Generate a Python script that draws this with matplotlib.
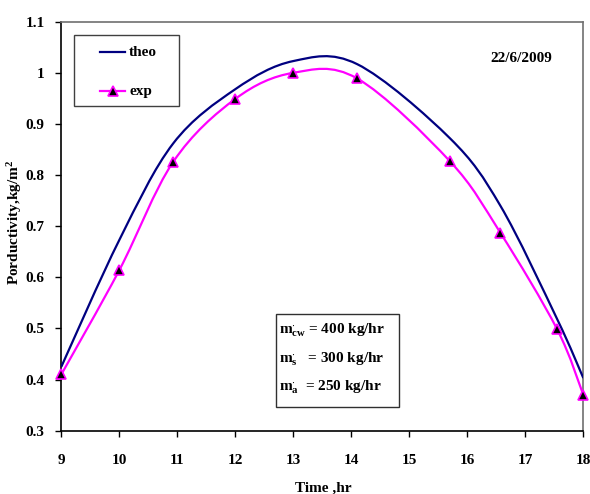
import matplotlib
matplotlib.use("Agg")
import matplotlib.pyplot as plt
from matplotlib.path import Path
from matplotlib.patches import PathPatch, Rectangle
from matplotlib.lines import Line2D
import numpy as np

plt.rcParams['font.family'] = ['Liberation Serif', 'DejaVu Serif']
plt.rcParams['font.weight'] = 'bold'
plt.rcParams['mathtext.fontset'] = 'custom'
plt.rcParams['mathtext.rm'] = 'Liberation Serif:bold'
plt.rcParams['mathtext.bf'] = 'Liberation Serif:bold'
plt.rcParams['mathtext.it'] = 'Liberation Serif:bold'

# Data
theo_time = [9, 10, 10.93, 12, 13, 14.1, 15.7, 16.57, 17.55, 18]
theo_prod = [0.425, 0.673, 0.862, 0.968, 1.023, 1.017, 0.872, 0.74, 0.518, 0.403]
exp_time = [9, 10, 10.93, 12, 13, 14.1, 15.7, 16.57, 17.55, 18]
exp_prod = [0.41, 0.614, 0.826, 0.949, 1.0, 0.989, 0.827, 0.687, 0.498, 0.37]
x_ticks = [9, 10, 11, 12, 13, 14, 15, 16, 17, 18]
y_ticks = [0.3, 0.4, 0.5, 0.6, 0.7, 0.8, 0.9, 1.0, 1.1]
y_tick_labels = ['0.3', '0.4', '0.5', '0.6', '0.7', '0.8', '0.9', '1', '1.1']

W, H = 590, 494
FS = 11


def smooth_path(xs, ys):
    """Excel-like smoothed line: Catmull-Rom converted to cubic Bezier segments."""
    pts = np.column_stack([xs, ys]).astype(float)
    n = len(pts)
    verts = [pts[0]]
    codes = [Path.MOVETO]
    for i in range(n - 1):
        p0 = pts[i - 1] if i > 0 else pts[i]
        p1 = pts[i]
        p2 = pts[i + 1]
        p3 = pts[i + 2] if i + 2 < n else pts[i + 1]
        c1 = p1 + (p2 - p0) / 6.0
        c2 = p2 - (p3 - p1) / 6.0
        verts += [c1, c2, p2]
        codes += [Path.CURVE4] * 3
    return Path(verts, codes)


def fx(px):
    return px / W


def fy(py):
    return (H - py) / H


fig = plt.figure(figsize=(5.9, 4.94), dpi=100)
ax = fig.add_axes([0.1039, 0.1281, 0.8848, 0.828])
ax.set_xlim(9, 18)
ax.set_ylim(0.3, 1.1)

ax.add_patch(PathPatch(smooth_path(theo_time, theo_prod), fill=False,
                       edgecolor='#000080', lw=1.6, zorder=3))
ax.add_patch(PathPatch(smooth_path(exp_time, exp_prod), fill=False,
                       edgecolor='#FF00FF', lw=1.6, zorder=3))
ax.plot(exp_time, exp_prod, linestyle='none', marker='^', markersize=7,
        markerfacecolor='black', markeredgecolor='#FF00FF', markeredgewidth=1.2,
        zorder=4, clip_on=False)

ax.set_xticks(x_ticks)
ax.set_xticklabels([str(t) for t in x_ticks], fontsize=FS, fontweight='bold')
ax.set_yticks(y_ticks)
ax.set_yticklabels(y_tick_labels, fontsize=FS, fontweight='bold')
ax.tick_params(direction='out', length=4, width=1)
ax.tick_params(axis='x', pad=13)
ax.tick_params(axis='y', pad=8)

for s in ['left', 'bottom']:
    ax.spines[s].set_color('black')
    ax.spines[s].set_linewidth(1.2)
for s in ['top', 'right']:
    ax.spines[s].set_color('#707070')
    ax.spines[s].set_linewidth(1.2)

fig.text(fx(323), fy(488), 'Time ,hr', ha='center', va='center',
         fontsize=FS, fontweight='bold')
fig.text(fx(15), fy(222), r'Porductivity,kg/m$^{2}$', ha='center', va='center',
         rotation=90, fontsize=FS, fontweight='bold')

# Legend (manual box mimicking the reference)
fig.patches.append(Rectangle((fx(74), fy(106)), fx(179) - fx(74), fy(35) - fy(106),
                             transform=fig.transFigure, fill=True, facecolor='white',
                             edgecolor='#404040', lw=1.0, zorder=5))
fig.lines.append(Line2D([fx(100), fx(125)], [fy(52), fy(52)], transform=fig.transFigure,
                        color='#000080', lw=1.6, zorder=6))
fig.lines.append(Line2D([fx(100), fx(125)], [fy(91), fy(91)], transform=fig.transFigure,
                        color='#FF00FF', lw=1.6, zorder=6))
fig.lines.append(Line2D([fx(112.5)], [fy(91)], transform=fig.transFigure, linestyle='none',
                        marker='^', markersize=7, markerfacecolor='black',
                        markeredgecolor='#FF00FF', markeredgewidth=1.2, zorder=7))
fig.text(fx(129), fy(52), 'theo', ha='left', va='center', fontsize=FS, fontweight='bold',
         zorder=8)
fig.text(fx(129), fy(91), 'exp', ha='left', va='center', fontsize=FS, fontweight='bold',
         zorder=8)

fig.text(fx(552), fy(58), '22/6/2009', ha='right', va='center',
         fontsize=FS, fontweight='bold')

# Parameter box
fig.patches.append(Rectangle((fx(276), fy(407)), fx(399) - fx(276), fy(314) - fy(407),
                             transform=fig.transFigure, fill=True, facecolor='white',
                             edgecolor='#303030', lw=1.0, zorder=5))
params = [r"m$^{\cdot}_{cw}$ = 400 kg/hr",
          r"m$^{\cdot}_{s}$   = 300 kg/hr",
          r"m$^{\cdot}_{a}$  = 250 kg/hr"]
param_y = [330, 359, 387]
for t, yy in zip(params, param_y):
    fig.text(fx(279), fy(yy), t, ha='left', va='center',
             fontsize=FS, fontweight='bold', zorder=8)

fig.savefig('out.png', dpi=100)
